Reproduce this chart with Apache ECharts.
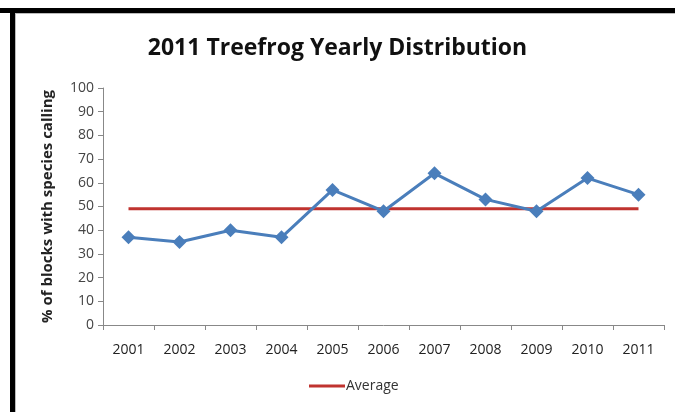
<!DOCTYPE html>
<html>
<head>
<meta charset="utf-8">
<script src="https://cdn.jsdelivr.net/npm/echarts@6/dist/echarts.min.js"></script>
<style>
  html, body { margin: 0; padding: 0; background: #fff; }
  #chart { width: 675px; height: 412px; }
</style>
</head>
<body>
<div id="chart"></div>
<script>
// data
var years = ['2001', '2002', '2003', '2004', '2005', '2006', '2007', '2008', '2009', '2010', '2011'];
var calling = [37, 35, 40, 37, 57, 48, 64, 53, 48, 62, 55];
var average = [49, 49, 49, 49, 49, 49, 49, 49, 49, 49, 49];

var myChart = echarts.init(document.getElementById('chart'));

var options = {
  backgroundColor: '#fff',
  textStyle: { fontFamily: 'Open Sans' },
  title: {
    text: '2011 Treefrog Yearly Distribution',
    left: 'center',
    top: 32,
    textStyle: { fontSize: 23, fontWeight: 'bold', color: '#111', fontFamily: 'Open Sans' }
  },
  // frame of the original screenshot
  graphic: [
    { type: 'rect', shape: { x: 0, y: 8, width: 675, height: 5 }, style: { fill: '#000' } },
    { type: 'rect', shape: { x: 10, y: 8, width: 5, height: 404 }, style: { fill: '#000' } },
    { type: 'rect', shape: { x: 15, y: 13, width: 660, height: 1 }, style: { fill: '#bbb' } },
    { type: 'rect', shape: { x: 15, y: 13, width: 1, height: 399 }, style: { fill: '#bbb' } }
  ],
  legend: {
    data: ['Average'],
    bottom: 14,
    left: 304,
    itemWidth: 36,
    itemHeight: 3,
    itemGap: 4,
    icon: 'rect',
    textStyle: { fontSize: 14, color: '#333', padding: [0, 0, 0, -4] }
  },
  grid: { left: 103, right: 11, top: 88, bottom: 87 },
  xAxis: {
    type: 'category',
    data: years,
    boundaryGap: true,
    axisLine: { lineStyle: { color: '#888' } },
    axisTick: { show: true, alignWithLabel: false, length: 5, lineStyle: { color: '#888' } },
    axisLabel: { fontSize: 14, color: '#222', margin: 18 }
  },
  yAxis: {
    type: 'value',
    min: 0,
    max: 100,
    interval: 10,
    name: '% of blocks with species calling',
    nameLocation: 'middle',
    nameGap: 48,
    nameTextStyle: { fontSize: 15, fontWeight: 'bold', color: '#222' },
    axisLine: { show: true, lineStyle: { color: '#888' } },
    axisTick: { show: true, length: 5, lineStyle: { color: '#888' } },
    axisLabel: { fontSize: 14, color: '#444', margin: 9 },
    splitLine: { show: false }
  },
  series: [
    {
      name: 'Calling',
      type: 'line',
      data: calling,
      symbol: 'diamond',
      symbolSize: 14,
      lineStyle: { color: '#4a7ebb', width: 3 },
      itemStyle: { color: '#4a7ebb' },
      z: 3
    },
    {
      name: 'Average',
      type: 'line',
      data: average,
      symbol: 'none',
      lineStyle: { color: '#c0332f', width: 3 },
      itemStyle: { color: '#c0332f' },
      z: 2
    }
  ]
};

myChart.setOption(options);
</script>
</body>
</html>
